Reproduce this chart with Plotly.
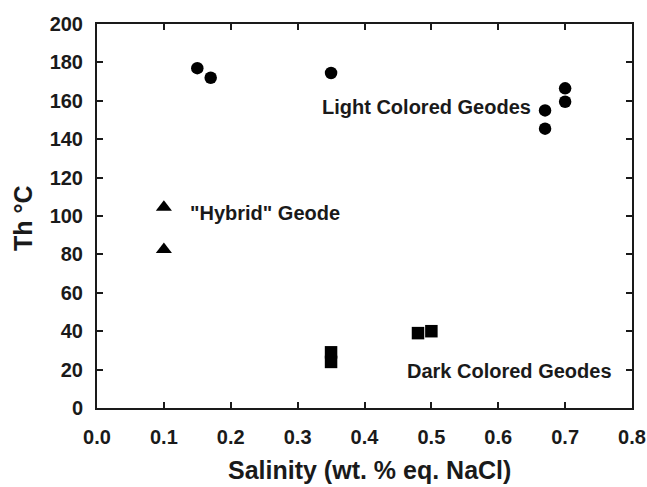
import plotly.graph_objects as go

# Data
light_x = [0.15, 0.17, 0.35, 0.67, 0.67, 0.70, 0.70]
light_y = [177, 172, 174.5, 155, 145.5, 166.5, 159.5]
hybrid_x = [0.10, 0.10]
hybrid_y = [104.5, 82.5]
dark_x = [0.35, 0.35, 0.48, 0.50]
dark_y = [29, 24, 39, 40]

x_ticks = [0.0, 0.1, 0.2, 0.3, 0.4, 0.5, 0.6, 0.7, 0.8]
y_ticks = [0, 20, 40, 60, 80, 100, 120, 140, 160, 180, 200]

FONT = "Liberation Sans, Arial, sans-serif"
INK = "#1a1a1a"

fig = go.Figure()
fig.add_trace(go.Scatter(x=light_x, y=light_y, mode="markers",
                         marker=dict(symbol="circle", size=12.5, color="black"),
                         name="Light Colored Geodes"))
fig.add_trace(go.Scatter(x=hybrid_x, y=hybrid_y, mode="markers",
                         marker=dict(symbol="triangle-up", size=14, color="black"),
                         name='"Hybrid" Geode'))
fig.add_trace(go.Scatter(x=dark_x, y=dark_y, mode="markers",
                         marker=dict(symbol="square", size=12.5, color="black"),
                         name="Dark Colored Geodes"))

ann_font = dict(family=FONT, size=20, color=INK, weight="bold")
fig.add_annotation(x=0.652, y=156.8, text="Light Colored Geodes", showarrow=False,
                   xanchor="right", yanchor="middle", font=ann_font)
fig.add_annotation(x=0.136, y=101.6, text='"Hybrid" Geode', showarrow=False,
                   xanchor="left", yanchor="middle", font=ann_font)
fig.add_annotation(x=0.461, y=19.3, text="Dark Colored Geodes", showarrow=False,
                   xanchor="left", yanchor="middle", font=ann_font)

title_font = dict(family=FONT, size=25, color=INK, weight="bold")
fig.add_annotation(xref="paper", yref="paper", x=0.51, y=-0.161,
                   text="Salinity (wt. % eq. NaCl)", showarrow=False,
                   xanchor="center", yanchor="middle", font=title_font)
fig.add_annotation(xref="paper", yref="paper", x=-0.138, y=0.495,
                   text="Th °C", textangle=-90, showarrow=False,
                   xanchor="center", yanchor="middle", font=title_font)

axis_common = dict(showgrid=False, zeroline=False, showline=True, linecolor=INK,
                   linewidth=2, mirror="ticks", ticks="inside", ticklen=6,
                   tickwidth=2, tickcolor=INK, automargin=False,
                   tickfont=dict(family=FONT, size=20, color=INK, weight="bold"))

fig.update_xaxes(range=[0, 0.8], tickvals=x_ticks,
                 ticktext=[f"{v:.1f}" for v in x_ticks],
                 ticklabelstandoff=10, **axis_common)
fig.update_yaxes(range=[0, 200], tickvals=y_ticks,
                 ticktext=[str(v) for v in y_ticks],
                 ticklabelstandoff=8, **axis_common)

fig.update_layout(width=647, height=487, showlegend=False,
                  paper_bgcolor="white", plot_bgcolor="white",
                  margin=dict(l=97, r=15, t=24, b=79))

# remove the default page margin so the 647x487 figure fills the window exactly
fig.write_html("out.html",
               config={"displayModeBar": False},
               post_script="document.body.style.margin='0';"
                           "document.body.style.overflow='hidden';"
                           "document.documentElement.style.overflow='hidden';")
